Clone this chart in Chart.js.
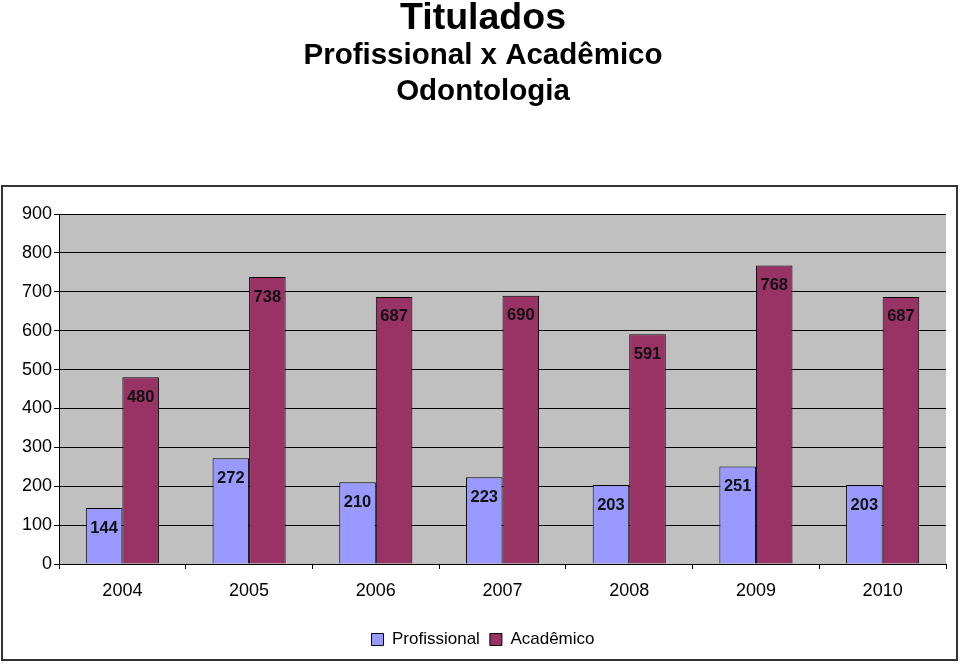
<!DOCTYPE html>
<html>
<head>
<meta charset="utf-8">
<script src="https://cdn.jsdelivr.net/npm/chart.js@4.4.0/dist/chart.umd.min.js"></script>
<style>
  html, body { margin: 0; padding: 0; background: #ffffff; }
  #wrap { width: 960px; height: 664px; }
</style>
</head>
<body>
<div id="wrap"><canvas id="graph" width="960" height="664"></canvas></div>
<script>
const anos = ['2004', '2005', '2006', '2007', '2008', '2009', '2010'];
const profissional = [144, 272, 210, 223, 203, 251, 203];
const academico = [480, 738, 687, 690, 591, 768, 687];
const yTicks = [0, 100, 200, 300, 400, 500, 600, 700, 800, 900];

Chart.defaults.font.family = '"Liberation Sans", Arial, Helvetica, sans-serif';
Chart.defaults.color = '#000000';

// fundo cinza da área do gráfico + moldura
const fundo = {
    id: 'fundo',
    beforeDraw(chart) {
        const ctx = chart.ctx;
        const a = chart.chartArea;
        ctx.save();
        ctx.fillStyle = '#ffffff';
        ctx.fillRect(0, 0, chart.width, chart.height);
        ctx.strokeStyle = '#333333';
        ctx.lineWidth = 2;
        ctx.strokeRect(2, 186, 955, 474);
        ctx.fillStyle = '#c0c0c0';
        ctx.fillRect(a.left, a.top, a.right - a.left, a.bottom - a.top);
        ctx.restore();
    }
};

// rótulos de valor dentro do topo das barras
const rotulos = {
    id: 'rotulos',
    afterDatasetsDraw(chart) {
        const ctx = chart.ctx;
        ctx.save();
        ctx.font = 'bold 16.5px "Liberation Sans", Arial, sans-serif';
        ctx.fillStyle = '#111111';
        ctx.textAlign = 'center';
        ctx.textBaseline = 'middle';
        chart.data.datasets.forEach((ds, i) => {
            chart.getDatasetMeta(i).data.forEach((bar, j) => {
                ctx.fillText(ds.data[j], bar.x, bar.y + 20);
            });
        });
        ctx.restore();
    }
};

const graph = document.getElementById('graph');
let chart = new Chart(graph, {
    type: 'bar',
    data: {
        labels: anos,
        datasets: [{
            label: 'Profissional',
            data: profissional,
            backgroundColor: '#9999ff',
            borderColor: '#000000',
            borderWidth: 1,
            categoryPercentage: 0.577,
            barPercentage: 1
        }, {
            label: 'Acadêmico',
            data: academico,
            backgroundColor: '#993366',
            borderColor: '#000000',
            borderWidth: 1,
            categoryPercentage: 0.577,
            barPercentage: 1
        }]
    },
    options: {
        responsive: false,
        animation: false,
        layout: {
            padding: { left: 20, right: 14, top: 0, bottom: 6 }
        },
        plugins: {
            title: {
                display: true,
                text: 'Titulados',
                font: { size: 37.5, weight: 'bold', lineHeight: 1.0 },
                padding: { top: 0, bottom: 0 }
            },
            subtitle: {
                display: true,
                text: ['Profissional x Acadêmico', 'Odontologia'],
                font: { size: 29.5, weight: 'bold', lineHeight: 1.23 },
                color: '#000000',
                padding: { top: 0, bottom: 104 }
            },
            legend: {
                position: 'bottom',
                labels: {
                    boxWidth: 12,
                    boxHeight: 12,
                    font: { size: 17 },
                    padding: 10
                }
            },
            tooltip: { enabled: false }
        },
        scales: {
            x: {
                offset: true,
                grid: {
                    offset: true,
                    drawOnChartArea: false,
                    color: '#000000',
                    tickLength: 5
                },
                border: { color: '#000000', width: 1 },
                ticks: { font: { size: 18 }, padding: 11 },
                afterFit(scale) {
                    scale.height = 57;
                }
            },
            y: {
                min: 0,
                max: 900,
                afterBuildTicks(scale) {
                    scale.ticks = yTicks.map(v => ({ value: v }));
                },
                grid: { color: '#000000', tickLength: 5 },
                border: { color: '#000000', width: 1 },
                ticks: { font: { size: 18 }, padding: 2 }
            }
        }
    },
    plugins: [fundo, rotulos]
});
</script>
</body>
</html>
